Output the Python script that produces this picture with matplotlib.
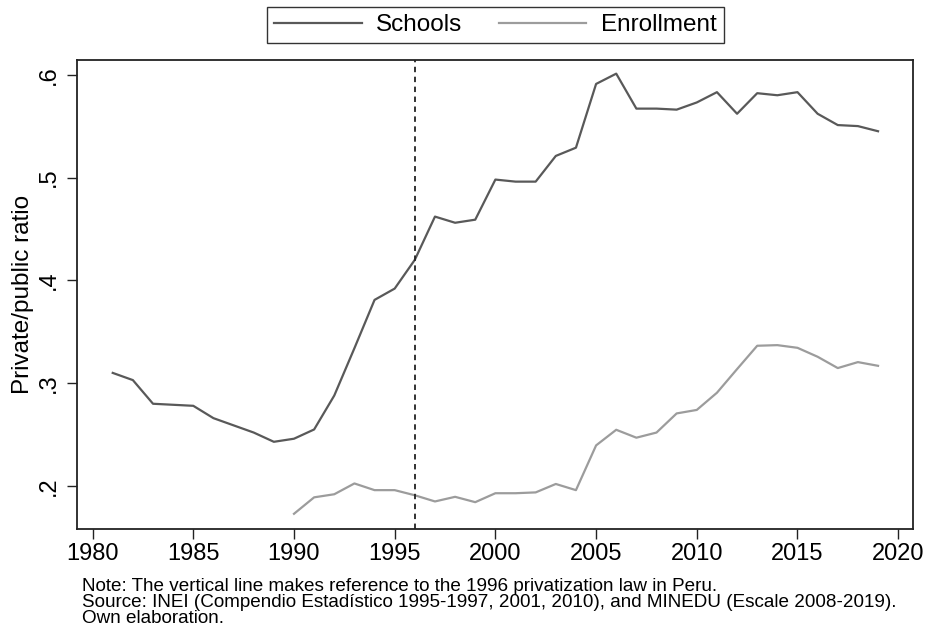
import matplotlib
matplotlib.use("Agg")
import matplotlib.pyplot as plt

plt.rcParams['font.family'] = ['Liberation Sans', 'DejaVu Sans']

# values
years_schools = list(range(1981, 2020))
schools = [0.310, 0.303, 0.280, 0.279, 0.278, 0.266, 0.259, 0.252, 0.243, 0.246,
           0.255, 0.288, 0.334, 0.381, 0.392, 0.420, 0.462, 0.456, 0.459, 0.498,
           0.496, 0.496, 0.521, 0.529, 0.591, 0.601, 0.567, 0.567, 0.566, 0.573,
           0.583, 0.562, 0.582, 0.580, 0.583, 0.562, 0.551, 0.550, 0.545]

years_enroll = list(range(1990, 2020))
enrollment = [0.173, 0.189, 0.192, 0.2025, 0.196, 0.196, 0.191, 0.185, 0.1895, 0.1843,
              0.193, 0.193, 0.1938, 0.202, 0.196, 0.2395, 0.2547, 0.247, 0.252, 0.2706,
              0.274, 0.2907, 0.3137, 0.3364, 0.337, 0.3344, 0.3257, 0.3147, 0.3205, 0.3169]

law_year = 1996
x_ticks = [1980, 1985, 1990, 1995, 2000, 2005, 2010, 2015, 2020]
y_ticks = [0.2, 0.3, 0.4, 0.5, 0.6]
y_labels = ['.2', '.3', '.4', '.5', '.6']

note = ("Note: The vertical line makes reference to the 1996 privatization law in Peru.\n"
        "Source: INEI (Compendio Estadístico 1995-1997, 2001, 2010), and MINEDU (Escale 2008-2019).\n"
        "Own elaboration.")

fig = plt.figure(figsize=(9.28, 6.34), dpi=100)
ax = fig.add_axes([0.0835, 0.1656, 0.90, 0.7398])

ax.plot(years_schools, schools, color='#595959', lw=1.6, label='Schools')
ax.plot(years_enroll, enrollment, color='#9c9c9c', lw=1.6, label='Enrollment')
ax.axvline(law_year, color='#222222', lw=1.3, linestyle=(0, (3, 2.5)))

ax.set_xlim(1979.25, 2020.72)
ax.set_ylim(0.1582, 0.6143)
ax.set_xticks(x_ticks)
ax.set_yticks(y_ticks)
ax.set_yticklabels(y_labels, rotation=90, va='center')
ax.tick_params(axis='both', labelsize=17, length=7, width=1.0, color='#222222')
ax.tick_params(axis='y', pad=5.5)
ax.tick_params(axis='x', pad=3)
ax.set_ylabel('Private/public ratio', fontsize=17.5)
ax.yaxis.set_label_coords(-0.052, 0.5)
for sp in ax.spines.values():
    sp.set_linewidth(1.3)
    sp.set_color('#222222')

leg = fig.legend(loc='upper center', bbox_to_anchor=(0.5338, 0.9894), ncol=2,
                 fontsize=17.5, frameon=True, fancybox=False, edgecolor='black',
                 handlelength=3.6, handletextpad=0.6, columnspacing=1.5,
                 borderpad=0.3, borderaxespad=0)
leg.get_frame().set_linewidth(1.0)

fig.text(0.088, 0.0885, note, fontsize=13.6, va='top', ha='left', linespacing=0.92)

fig.savefig('out.png', dpi=100)
